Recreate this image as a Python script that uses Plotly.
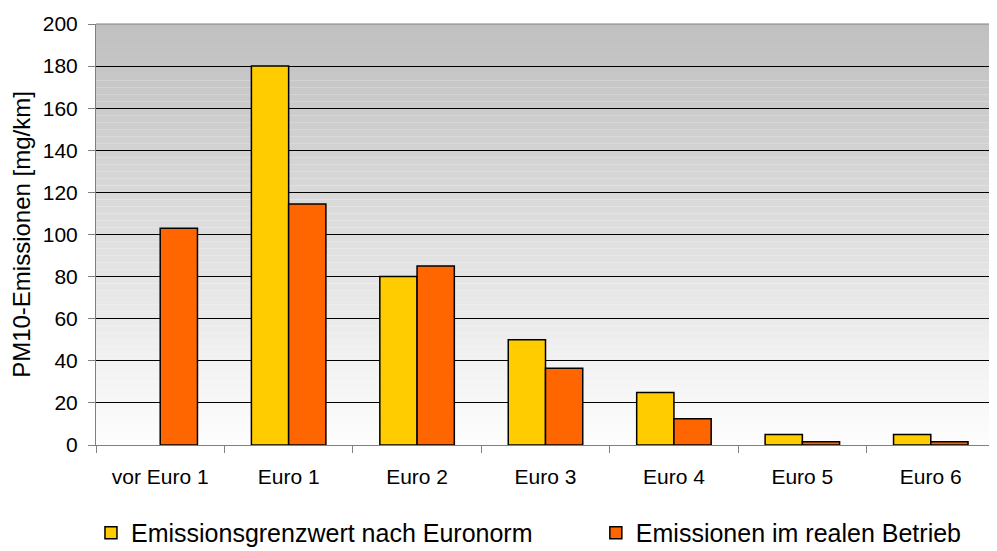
import plotly.graph_objects as go

categories = ["vor Euro 1", "Euro 1", "Euro 2", "Euro 3", "Euro 4", "Euro 5", "Euro 6"]
grenzwert = [None, 180, 80, 50, 25, 5, 5]
real = [103, 114.5, 85, 36.5, 12.5, 1.5, 1.5]
series_names = ["Emissionsgrenzwert nach Euronorm", "Emissionen im realen Betrieb"]
y_ticks = [0, 20, 40, 60, 80, 100, 120, 140, 160, 180, 200]

FONT = "Liberation Sans, Arial, sans-serif"

fig = go.Figure()
fig.add_trace(go.Bar(x=categories, y=grenzwert, name=series_names[0], legend="legend",
                     marker=dict(color="#FFCC00", line=dict(color="#000000", width=1.5))))
fig.add_trace(go.Bar(x=categories, y=real, name=series_names[1], legend="legend2",
                     marker=dict(color="#FF6600", line=dict(color="#000000", width=1.5))))

# gradient background (gray at top to white at bottom)
n = 60
shapes = []
for i in range(n):
    t = i / (n - 1)
    v = int(round(0xC0 + (0xFD - 0xC0) * t))
    col = f"rgb({v},{v},{v})"
    shapes.append(dict(type="rect", xref="paper", yref="paper",
                       x0=0, x1=1, y0=1 - (i + 1) / n, y1=1 - i / n,
                       fillcolor=col, line=dict(width=0), layer="below"))
shapes.append(dict(type="line", xref="paper", yref="paper", x0=0, x1=1, y0=1, y1=1,
                   line=dict(color="#808080", width=1)))

legend_common = dict(orientation="h", xanchor="left", y=-0.209, yanchor="middle",
                     font=dict(size=25), bgcolor="rgba(0,0,0,0)")

fig.update_layout(
    width=989, height=543,
    margin=dict(l=88, r=2, t=16, b=106, autoexpand=False),
    paper_bgcolor="white",
    plot_bgcolor="rgba(0,0,0,0)",
    barmode="group",
    bargap=0.42,
    bargroupgap=0,
    shapes=shapes,
    font=dict(family=FONT, size=21, color="black"),
    showlegend=True,
    legend=dict(x=-0.0056, **legend_common),
    legend2=dict(x=0.556, **legend_common),
    xaxis=dict(type="category", tickson="boundaries", ticks="outside", ticklen=7,
               tickcolor="#808080", showline=True, linecolor="#808080", linewidth=1,
               showgrid=False, ticklabelstandoff=13, tickfont=dict(size=21),
               automargin=False),
    yaxis=dict(range=[0, 200], tickvals=y_ticks, ticks="outside", ticklen=7,
               tickcolor="#808080", showline=True, linecolor="#808080", linewidth=1,
               showgrid=True, gridcolor="#000000", gridwidth=1, zeroline=False,
               ticklabelstandoff=6, tickfont=dict(size=21), automargin=False,
               title=dict(text="PM10-Emissionen [mg/km]", font=dict(size=24), standoff=8)),
)

fig.write_html("out.html")
